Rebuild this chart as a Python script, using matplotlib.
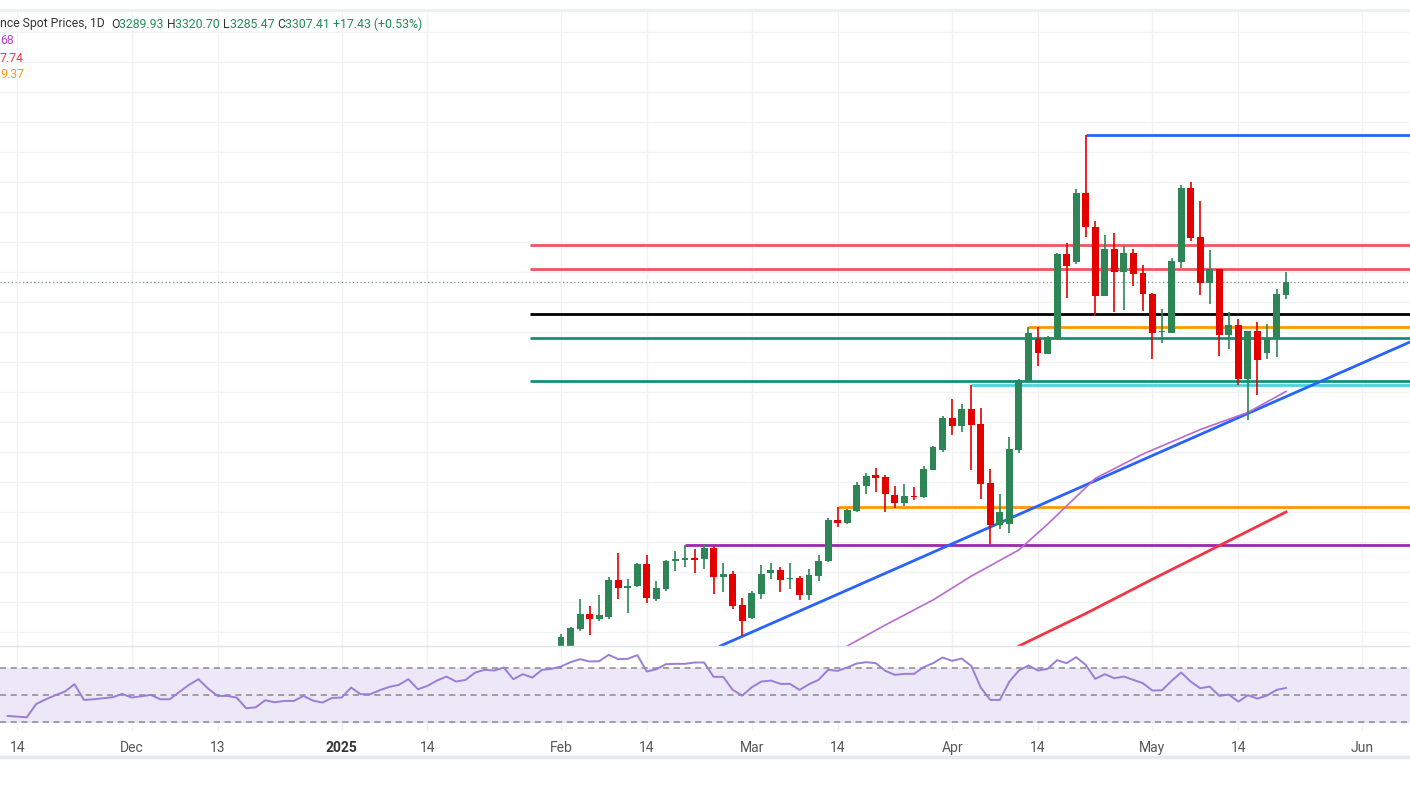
import matplotlib
matplotlib.use("Agg")
import matplotlib.pyplot as plt
import numpy as np
import pandas as pd

plt.rcParams["font.family"] = "Roboto"

# ---------------- data ----------------
last_date = "2025-05-21"
holidays = ["2025-04-18"]

opens = [2824.0,2829.2,2852.8,2872.5,2865.9,2868.5,2917.0,2906.5,2909.1,2938.0,
         2892.1,2905.2,2941.9,2943.2,2945.8,2944.5,2958.9,2920.9,2924.8,2884.3,
         2867.2,2898.7,2926.2,2930.2,2918.8,2919.6,2897.4,2922.2,2941.9,2995.6,
         2991.7,3007.4,3040.2,3054.6,3051.9,3028.4,3017.9,3027.1,3025.8,3061.1,
         3087.3,3129.2,3118.7,3141.0,3121.3,3044.1,2989.1,2990.4,3087.3,3177.7,
         3232.7,3213.5,3232.7,3344.1,3333.7,3424.2,3379.4,3289.0,3350.6,3320.5,
         3345.4,3319.2,3291.6,3241.9,3240.6,3333.7,3430.6,3366.3,3306.1,3324.4,
         3238.1,3251.4,3180.3,3243.2,3214.8,3232.7,3289.93]
highs = [2846.3,2855.4,2892.1,2882.9,2897.4,2920.9,2952.4,2918.3,2939.2,2949.8,
         2915.7,2943.2,2955.0,2962.9,2957.6,2964.2,2961.6,2939.2,2928.8,2893.4,
         2902.6,2936.6,2939.2,2934.0,2939.2,2922.2,2931.5,2949.8,2998.2,3012.6,
         3010.0,3045.4,3057.2,3063.7,3054.6,3040.2,3042.8,3038.9,3066.4,3092.5,
         3131.8,3154.1,3147.5,3172.4,3142.3,3062.4,3029.7,3104.3,3180.3,3248.4,
         3248.4,3237.2,3345.4,3358.5,3429.4,3500.0,3387.3,3368.9,3371.6,3354.5,
         3350.6,3329.6,3292.9,3272.0,3338.9,3434.4,3438.4,3413.5,3349.3,3324.4,
         3268.1,3259.3,3243.2,3255.0,3252.8,3298.2,3320.70]
lows = [2822.7,2827.9,2850.2,2845.0,2863.3,2865.9,2892.1,2873.8,2907.8,2886.9,
        2889.5,2902.6,2928.8,2934.0,2926.2,2931.5,2898.7,2901.3,2879.0,2843.6,
        2865.9,2892.1,2918.3,2901.3,2905.2,2890.8,2890.8,2915.7,2940.6,2986.4,
        2990.4,3006.1,3029.7,3032.3,3006.1,3011.3,3014.0,3021.8,3024.5,3061.1,
        3084.6,3106.9,3110.9,3061.1,3023.1,2964.2,2983.8,2978.6,3083.3,3177.7,
        3197.4,3213.5,3231.4,3286.6,3331.1,3366.3,3262.8,3289.0,3268.1,3270.7,
        3302.2,3269.4,3206.5,3227.5,3240.6,3325.7,3361.1,3290.3,3278.6,3210.4,
        3219.6,3172.4,3126.6,3159.3,3206.5,3208.6,3285.47]
closes = [2842.3,2854.1,2872.5,2865.9,2871.2,2917.0,2906.5,2909.1,2938.0,2893.4,
          2906.5,2941.9,2944.5,2945.8,2943.2,2958.9,2920.9,2924.8,2882.9,2863.3,
          2900.0,2924.8,2930.2,2917.0,2919.6,2897.4,2923.5,2941.9,2995.6,2991.7,
          3008.7,3041.5,3053.3,3050.6,3029.7,3017.9,3027.1,3025.8,3062.4,3091.2,
          3129.2,3118.7,3141.0,3120.0,3042.8,2989.1,3006.1,3088.6,3179.0,3240.6,
          3214.8,3235.9,3344.1,3328.5,3424.2,3379.4,3289.0,3350.6,3320.5,3345.4,
          3317.9,3291.6,3240.6,3243.2,3334.9,3430.6,3365.0,3306.1,3324.4,3238.1,
          3251.4,3180.3,3243.2,3205.2,3233.4,3291.6,3307.41]

rsi = [34.25,33.75,33.25,43.25,46.75,49.75,52.5,58,46.25,46.75,47.5,48.25,50.75,48,49,50,
       46.75,46.75,52.25,57.5,61.75,54.75,49.25,49.25,48,40,40.75,46,44.5,45.5,45.5,49.25,
       45.75,44.25,47.75,48,55.5,50.5,50.5,53.5,56,57.5,61.75,54.25,56.75,60.75,63.75,60,
       61.25,66.75,68.75,68.25,70.5,61.75,65.5,63,68.75,69.5,71.25,74.5,76.75,75,75.25,80,
       76.75,77,79.75,67.5,69.25,73,73.25,73.25,74.25,
       74.25,63.5,63.5,53.75,49.5,55.75,60,60.75,58.25,58.25,53.75,58,61.25,68.75,68,70.5,
       73.5,74.5,73.75,68,65,65.75,65.75,70.75,73.75,78,75.5,77.25,71.75,55.5,46.25,46.25,
       60,68.25,72,68.25,69.5,76,73.75,78.25,72.5,62,65.5,62.5,63.75,61.25,58.75,53.25,
       53.5,60.5,66.75,60,55,56.25,49.25,50.25,45,49.75,47.25,49.5,53.75,55.25]

# moving averages (candle number, value)
ma50_n = [28, 31, 35, 40, 44, 49, 52, 57, 62, 68, 73, 77]
ma50_v = [2790, 2830.5, 2858, 2890.8, 2922, 2956.4, 2990, 3050, 3082, 3114, 3136.5, 3164.0]
ma100_n = [45, 49, 56, 63, 70, 77]
ma100_v = [2790, 2830.5, 2873, 2918, 2962, 3006.1]

# horizontal levels: (price, start candle number, colour, width)
levels = [(3500.0, 56, "#2962ff", 2.0), (3355.9, -2.25, "#f0545c", 2.0),
          (3324.4, -2.25, "#f0545c", 2.0), (3265.5, -2.25, "#000000", 2.0),
          (3248.4, 50, "#ff9800", 2.0), (3234.0, -2.25, "#138f7a", 2.0),
          (3177.1, -2.25, "#138f7a", 2.0), (3171.9, 44, "#4dd0e1", 2.0),
          (3012.6, 30, "#ff9800", 2.0), (2962.3, 14, "#9c27b0", 2.0)]
trend_n = [17.7, 90]
trend_p = [2830.5, 3228.8]

tick_dates = ["2024-11-14","2024-12-02","2024-12-13","2025-01-01","2025-01-14","2025-02-03",
              "2025-02-14","2025-03-03","2025-03-14","2025-04-01","2025-04-14","2025-05-01",
              "2025-05-14","2025-06-02"]
tick_labels = ["14","Dec","13","2025","14","Feb","14","Mar","14","Apr","14","May","14","Jun"]

# ---------------- index mapping ----------------
days = pd.bdate_range("2024-10-01", "2025-07-01")
days = days[~days.isin(pd.to_datetime(holidays))]
pos_last = days.get_loc(pd.Timestamp(last_date))
def nidx(d):
    return days.get_loc(pd.Timestamp(d)) - pos_last + 77

n = np.arange(1, len(opens) + 1)
rsi_n = np.arange(77 - len(rsi) + 1, 78)

GREEN, RED = "#2e8656", "#e50000"
W, H = 1410, 792
fig = plt.figure(figsize=(W/100, H/100), dpi=100)
xl = (-551.46/9.54, (1410-551.46)/9.54)
ax = fig.add_axes([0, (H-646)/H, 1, 636/H])
ar = fig.add_axes([0, (H-731)/H, 1, 85/H])

for a in (ax, ar):
    a.set_xlim(*xl)
    for s in a.spines.values():
        s.set_visible(False)
    for t in tick_dates:
        a.axvline(nidx(t), color="#f0f2f6", lw=1, zorder=0)

ax.set_ylim(2830.5, 3663.7)
for g in 3634.9 - 39.3*np.arange(0, 22):
    ax.axhline(g, color="#f0f2f6", lw=1, zorder=0)
ax.set_xticks([]); ax.set_yticks([])

for p, s, c, w in levels:
    ax.plot([s, xl[1]], [p, p], color=c, lw=w, zorder=2, solid_capstyle="butt")
ax.plot(trend_n, trend_p, color="#2962ff", lw=2, zorder=2)
ax.plot(ma50_n, ma50_v, color="#b86ad0", lw=1.2, zorder=2)
ax.plot(ma100_n, ma100_v, color="#f23645", lw=2, zorder=2)
ax.axhline(closes[-1], color="#6a9e86", lw=0.9, ls=(0, (1, 2)), zorder=1)

for i in range(len(opens)):
    o, h, l, c = opens[i], highs[i], lows[i], closes[i]
    col = GREEN if c >= o else RED
    ax.vlines(n[i], l, h, color=col, lw=1.2, zorder=3)
    lo, hi = min(o, c), max(o, c)
    ax.bar(n[i], max(hi - lo, 1.2), bottom=lo, width=0.72, color=col, zorder=4, linewidth=0)

ar.set_ylim(23.0, 86.6)
ar.axhspan(30, 70, color="#ede8f7", zorder=0)
for lv in (70, 50, 30):
    ar.axhline(lv, color="#8a8a8a", lw=1.1, ls=(0, (4, 3)), zorder=1)
ar.plot(rsi_n, rsi, color="#9a7ed6", lw=1.4, zorder=3)
ar.set_yticks([])
ar.set_xticks([nidx(t) for t in tick_dates])
ar.set_xticklabels(tick_labels, fontsize=10, color="#555555")
ar.tick_params(axis="x", length=0, pad=7)
for lab in ar.get_xticklabels():
    if lab.get_text() == "2025":
        lab.set_fontweight("bold"); lab.set_color("#333333")

fig.add_artist(plt.Line2D([0, 1], [(H-646)/H]*2, color="#dfe2ea", lw=1))
fig.add_artist(plt.Line2D([0, 1], [(H-757)/H]*2, color="#e6e8ee", lw=2.5))
fig.add_artist(plt.Line2D([0, 1], [(H-10)/H]*2, color="#eceef3", lw=2))

fs = 8.8
y0 = 1 - 24/H
t1 = fig.text(0.0, y0, "nce Spot Prices, 1D  ", fontsize=fs, color="#333333", va="center")
parts = [("O", "3289.93"), ("H", "3320.70"), ("L", "3285.47"), ("C", "3307.41")]
fig.canvas.draw()
r = fig.canvas.get_renderer()
x = t1.get_window_extent(r).x1
for k, v in parts:
    tk = fig.text(x/W, y0, k, fontsize=fs, color="#333333", va="center")
    x = tk.get_window_extent(r).x1
    tv = fig.text(x/W, y0, v + " ", fontsize=fs, color="#1f8a5a", va="center")
    x = tv.get_window_extent(r).x1
fig.text(x/W, y0, "+17.43 (+0.53%)", fontsize=fs, color="#1f8a5a", va="center")
fig.text(0.0, 1 - 41/H, "68", fontsize=fs, color="#b040c8", va="center")
fig.text(0.0, 1 - 58/H, "7.74", fontsize=fs, color="#f23645", va="center")
fig.text(0.0, 1 - 74/H, "9.37", fontsize=fs, color="#ff9800", va="center")

fig.savefig("out.png", dpi=100)
